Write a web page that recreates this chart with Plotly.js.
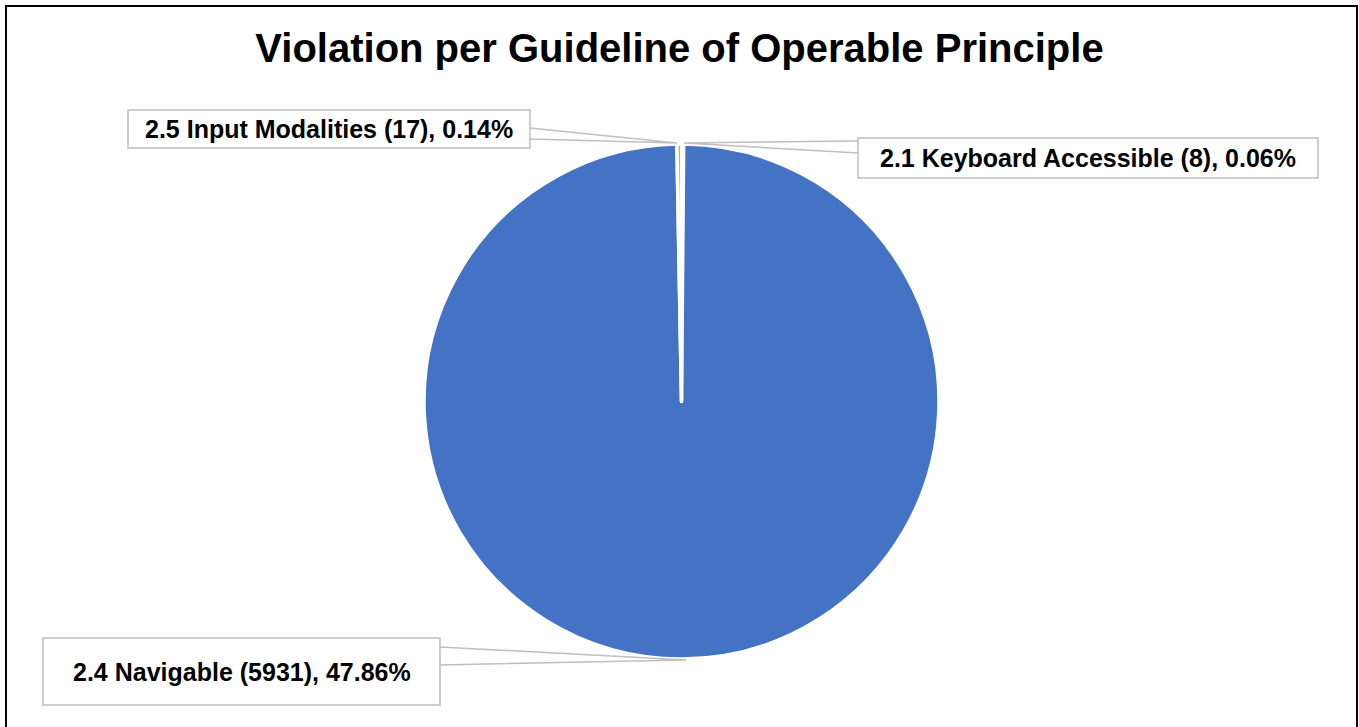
<!DOCTYPE html>
<html>
<head>
<meta charset="utf-8">
<script src="https://cdn.plot.ly/plotly-3.0.1.min.js"></script>
<style>html,body{margin:0;padding:0;background:#fff;}#chart{width:1359px;height:727px;}</style>
</head>
<body>
<div id="chart"></div>
<script>
// Data
const guidelines = ["2.1 Keyboard Accessible", "2.4 Navigable", "2.5 Input Modalities"];
const violations = [8, 5931, 17];
const percentages = ["0.06", "47.86", "0.14"];
const sliceColors = ["#A5A5A5", "#4472C4", "#ED7D31"];

const W = 1359, H = 727;
const px = x => x / W;
const py = y => 1 - y / H;

const labelText = guidelines.map((g, i) => `${g} (${violations[i]}), ${percentages[i]}%`);

// label boxes (pixel layout): [left, top, right, bottom], callout edge points and tip
const boxes = [
  {box: [858, 138, 1318, 178], e1: [858, 141], e2: [858, 153], tip: [684, 143]},
  {box: [43, 638, 440, 705], e1: [440, 647], e2: [440, 665], tip: [686, 660]},
  {box: [128, 110, 530, 148], e1: [530, 128], e2: [530, 139], tip: [677, 143]}
];

const shapes = [];
const annotations = [];
boxes.forEach((b, i) => {
  const [l, t, r, btm] = b.box;
  shapes.push({
    type: 'path', xref: 'paper', yref: 'paper', layer: 'above',
    path: `M ${px(b.e1[0])},${py(b.e1[1])} L ${px(b.tip[0])},${py(b.tip[1])} L ${px(b.e2[0])},${py(b.e2[1])}`,
    line: {color: '#BFBFBF', width: 1.5}
  });
  shapes.push({
    type: 'rect', xref: 'paper', yref: 'paper', layer: 'above',
    x0: px(l), x1: px(r), y0: py(btm), y1: py(t),
    line: {color: '#BFBFBF', width: 1.5}, fillcolor: '#FFFFFF'
  });
  annotations.push({
    xref: 'paper', yref: 'paper', x: px((l + r) / 2), y: py((t + btm) / 2),
    xanchor: 'center', yanchor: 'middle', showarrow: false,
    text: labelText[i],
    font: {family: 'Liberation Sans, Arial, sans-serif', size: 25, color: '#000', weight: 'bold'}
  });
});
// outer frame
shapes.push({
  type: 'rect', xref: 'paper', yref: 'paper', layer: 'above',
  x0: px(6), x1: px(1357), y0: py(745), y1: py(6),
  line: {color: '#000000', width: 2}, fillcolor: 'rgba(0,0,0,0)'
});

const trace = {
  type: 'pie',
  labels: guidelines,
  values: violations,
  sort: false,
  direction: 'clockwise',
  rotation: 0,
  textinfo: 'none',
  hoverinfo: 'label+value',
  marker: {colors: sliceColors, line: {color: '#FFFFFF', width: 3.5}},
  domain: {x: [px(424), px(939)], y: [py(659), py(144)]},
  showlegend: false
};

const layout = {
  width: W, height: H,
  margin: {l: 0, r: 0, t: 0, b: 0},
  paper_bgcolor: '#FFFFFF',
  title: {
    text: 'Violation per Guideline of Operable Principle',
    x: 0.5, xanchor: 'center', xref: 'paper',
    y: py(48), yanchor: 'middle', yref: 'container',
    font: {family: 'Liberation Sans, Arial, sans-serif', size: 40, color: '#000', weight: 'bold'}
  },
  shapes: shapes,
  annotations: annotations,
  showlegend: false
};

Plotly.newPlot('chart', [trace], layout, {displayModeBar: false, staticPlot: true});
</script>
</body>
</html>
